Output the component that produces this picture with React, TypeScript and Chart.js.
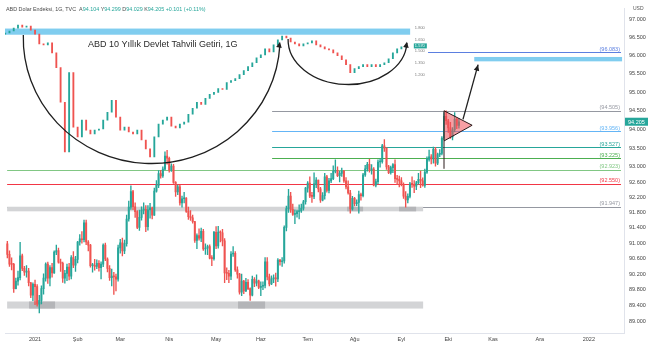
import React, { useEffect, useRef } from "react";
import { Chart, registerables } from "chart.js";
Chart.register(...registerables);

const FONT = "'Liberation Sans', Arial, sans-serif";
const UP = "#26a69a";
const DOWN = "#ef5350";

// ---- DXY daily candles (index 0 = 4 Jan 2021; negative = late Dec 2020) ----
const candleStart = -13;
const firstOpen = 90.98;
const closes = [
  90.71, 90.46, 90.45, 89.83, 90.02, 90.11, 90.67, 90.35, 90.25, 90.28, 89.98, 89.66, 89.94,
  89.88, 89.43, 89.53, 89.83, 90.10, 90.46, 90.10, 90.37, 90.23, 90.77, 90.81, 90.51, 90.48, 90.10, 90.22, 90.38, 90.15, 90.63, 90.43, 90.58,
  91.03, 91.11, 91.09, 91.53, 91.03, 90.95, 90.42, 90.43, 90.40, 90.48, 90.37, 90.46, 90.95, 90.59, 90.35, 90.11, 90.15, 90.13, 90.07, 90.88,
  91.01, 90.80, 90.99, 91.63, 91.94, 92.35, 91.95, 91.82, 91.41, 91.67, 91.86, 91.88, 91.43, 91.87, 91.92, 91.73, 92.36, 92.51, 92.82, 92.76, 92.94, 93.29, 93.23,
  92.92, 93.02, 92.59, 92.34, 92.47, 92.05, 92.16, 92.18, 91.83, 91.69, 91.66, 91.56, 91.07, 91.20, 91.13, 91.31, 90.85, 90.87, 90.91, 90.61, 90.60, 91.28,
  90.93, 91.29, 91.27, 91.06, 90.23, 90.22, 90.15, 90.72, 90.74, 90.31, 90.20, 89.74, 90.02, 89.77, 89.99, 89.83, 89.66, 90.07, 89.97, 90.03, 89.86,
  89.89, 89.91, 90.52, 90.13, 89.95, 90.08, 90.10, 90.08, 90.56, 90.52, 90.54, 91.41, 91.90, 92.23, 91.88, 91.75, 91.77, 91.82, 91.84, 91.91, 92.08, 92.44,
  92.57, 92.23, 92.22, 92.55, 92.65, 92.42, 92.12, 92.24, 92.74, 92.38, 92.63, 92.69, 92.88, 92.91, 92.77, 92.83, 92.89, 92.63, 92.47, 92.31, 91.89, 92.17,
  92.03, 92.06, 92.27, 92.24, 92.79, 92.95, 93.07, 92.92, 92.94, 92.52, 92.61, 93.13, 93.14, 93.56, 93.50, 93.00, 92.85, 92.98, 93.06, 92.69, 92.67, 92.63,
  92.54, 92.23, 92.13, 92.22, 92.55, 92.54, 92.49, 92.58, 92.67, 92.63, 92.51, 92.86, 93.20, 93.27, 93.21, 93.47, 93.10, 93.33, 93.36, 93.77, 94.35, 94.23,
  94.04, 93.80, 93.99, 94.27, 94.104, 94.205,
];
const highs = [
  91.05, 90.80, 90.62, 90.48, 90.10, 90.28, 91.02, 90.72, 90.40, 90.42, 90.35, 89.99, 89.98,
  90.05, 89.93, 89.66, 89.90, 90.21, 90.49, 90.51, 90.42, 90.48, 90.80, 90.95, 90.87, 90.59, 90.51, 90.30, 90.46, 90.48, 90.68, 90.78, 90.66,
  91.05, 91.22, 91.30, 91.60, 91.60, 91.07, 90.97, 90.48, 90.58, 90.57, 90.55, 90.52, 90.98, 91.00, 90.62, 90.42, 90.33, 90.25, 90.20, 90.95,
  91.10, 91.13, 91.08, 91.73, 92.10, 92.50, 92.38, 92.05, 91.85, 91.86, 91.95, 92.05, 91.98, 91.98, 92.04, 91.94, 92.44, 92.64, 92.90, 92.91, 93.00, 93.40, 93.44,
  93.26, 93.08, 93.07, 92.61, 92.52, 92.51, 92.23, 92.33, 92.19, 91.94, 91.85, 91.73, 91.57, 91.24, 91.37, 91.39, 91.36, 90.98, 90.95, 90.96, 90.68, 91.31,
  91.43, 91.44, 91.32, 91.36, 91.12, 90.36, 90.30, 90.78, 90.91, 90.78, 90.39, 90.22, 90.20, 90.04, 90.09, 90.06, 89.85, 90.15, 90.11, 90.18, 90.05,
  90.00, 90.00, 90.63, 90.63, 90.20, 90.16, 90.18, 90.23, 90.60, 90.58, 90.63, 91.45, 91.97, 92.41, 92.33, 92.02, 91.87, 91.86, 92.00, 92.02, 92.12, 92.46,
  92.61, 92.74, 92.33, 92.84, 92.72, 92.65, 92.46, 92.32, 92.83, 92.78, 92.70, 92.83, 93.03, 93.19, 93.00, 92.88, 92.97, 92.91, 92.72, 92.63, 92.38, 92.22,
  92.20, 92.13, 92.36, 92.31, 92.83, 93.04, 93.12, 93.20, 93.06, 92.98, 92.68, 93.19, 93.22, 93.60, 93.73, 93.51, 93.04, 93.02, 93.09, 93.19, 92.78, 92.76,
  92.72, 92.58, 92.35, 92.29, 92.59, 92.74, 92.64, 92.62, 92.83, 92.89, 92.71, 92.94, 93.27, 93.45, 93.33, 93.53, 93.52, 93.37, 93.46, 93.81, 94.45, 94.50,
  94.27, 94.19, 94.05, 94.45, 94.30, 94.299,
];
const lows = [
  90.62, 90.40, 90.31, 89.73, 89.82, 89.92, 90.05, 90.29, 90.17, 90.12, 89.90, 89.60, 89.52,
  89.42, 89.38, 89.21, 89.44, 89.69, 90.02, 89.96, 89.90, 90.12, 90.22, 90.70, 90.48, 90.27, 89.99, 89.97, 90.03, 90.05, 90.08, 90.37, 90.27,
  90.49, 90.95, 91.00, 91.03, 90.96, 90.80, 90.38, 90.25, 90.30, 90.34, 90.28, 90.08, 90.39, 90.55, 90.26, 90.04, 89.90, 89.68, 89.77, 90.02,
  90.74, 90.67, 90.73, 90.92, 91.57, 91.88, 91.87, 91.67, 91.38, 91.33, 91.60, 91.76, 91.30, 91.34, 91.65, 91.63, 91.72, 92.33, 92.45, 92.70, 92.72, 92.92, 93.07,
  92.86, 92.88, 92.56, 92.22, 92.27, 91.99, 91.94, 92.05, 91.80, 91.62, 91.59, 91.52, 91.02, 90.86, 91.08, 91.04, 90.81, 90.71, 90.70, 90.59, 90.42, 90.56,
  90.86, 90.87, 91.03, 90.93, 89.98, 90.06, 89.98, 90.06, 90.66, 90.27, 90.10, 89.69, 89.65, 89.70, 89.75, 89.80, 89.53, 89.64, 89.88, 89.90, 89.83,
  89.65, 89.80, 89.85, 90.05, 89.90, 89.93, 89.98, 89.89, 90.01, 90.43, 90.40, 90.48, 91.32, 91.80, 91.80, 91.72, 91.51, 91.68, 91.63, 91.80, 91.86, 92.02,
  92.33, 92.19, 92.06, 92.16, 92.45, 92.34, 92.06, 92.10, 92.15, 92.33, 92.31, 92.58, 92.66, 92.84, 92.74, 92.60, 92.75, 92.59, 92.42, 92.28, 91.78, 91.86,
  91.97, 91.98, 91.78, 92.12, 92.21, 92.75, 92.89, 92.86, 92.81, 92.50, 92.47, 92.55, 92.99, 93.10, 93.41, 92.93, 92.82, 92.81, 92.85, 92.59, 92.53, 92.47,
  92.50, 92.17, 91.94, 92.05, 92.18, 92.46, 92.32, 92.40, 92.54, 92.45, 92.49, 92.46, 92.83, 93.15, 93.08, 93.10, 93.02, 93.06, 93.27, 93.32, 93.72, 94.13,
  93.92, 93.76, 93.72, 93.93, 94.02, 94.029,
];

// ---- overlay: US 10Y yield (pasted chart, own scale) ----
const overlayStart = -14;
const overlayStep = 2;
const overlayFirstOpen = 1.72;
const overlayValues = [
  1.736, 1.762, 1.800, 1.838, 1.813, 1.826, 1.774, 1.723, 1.596, 1.583, 1.609, 1.481, 1.289, 0.843, 0.204, 1.226,
  0.523, 0.396, 0.613, 0.485, 0.434, 0.485, 0.498, 0.613, 0.715, 0.868, 0.651, 0.485, 0.523, 0.460, 0.434, 0.485,
  0.357, 0.243, 0.140, 0.396, 0.562, 0.613, 0.651, 0.536, 0.511, 0.562, 0.587, 0.689, 0.766, 0.843, 0.817, 0.894,
  0.945, 0.970, 1.021, 1.008, 1.098, 1.123, 1.149, 1.200, 1.251, 1.302, 1.353, 1.417, 1.455, 1.532, 1.494, 1.583,
  1.647, 1.698, 1.672, 1.621, 1.596, 1.570, 1.596, 1.609, 1.634, 1.583, 1.557, 1.532, 1.519, 1.481, 1.443, 1.391,
  1.328, 1.226, 1.277, 1.302, 1.328, 1.302, 1.328, 1.302, 1.328, 1.353, 1.404, 1.481, 1.532, 1.557, 1.570,
];
const overlayTickValues = [1.8, 1.65, 1.5, 1.35, 1.2];

// ---- axes ----
const yTicks = [97, 96.5, 96, 95.5, 95, 94.5, 94, 93.5, 93, 92.6, 92.2, 91.8, 91.4, 91, 90.6, 90.2, 89.8, 89.4, 89];
const monthIdx = [0, 20, 40, 63, 85, 106, 128, 150, 172, 194, 215, 237, 260];
const monthLabels = ["2021", "Şub", "Mar", "Nis", "May", "Haz", "Tem", "Ağu", "Eyl", "Eki", "Kas", "Ara", "2022"];

// ---- horizontal levels ----
const levelValues = [96.083, 94.505, 93.956, 93.527, 93.225, 92.923, 92.55, 91.947];
const levelColors = ["#5b7fe0", "#9598a1", "#64b5f6", "#26a69a", "#4caf50", "#81c784", "#f23645", "#9598a1"];
const levelFrom = [184.5, 111.3, 111.3, 111.3, 111.3, -13.1, -13.1, -13.1];

// ---- zones ----
const zoneTop = [96.74, 95.96, 91.95, 89.5];
const zoneBottom = [96.57, 95.84, 91.83, 89.32];
const zoneFrom = [-14.1, 206.2, -13.1, -13.1];
const zoneTo = [176.1, 275.6, 182.2, 182.2];
const zoneColors = ["#80cdef", "#80cdef", "#d3d4d6", "#d3d4d6"];
const patchZone = [2, 2, 3, 3];
const patchFrom = [146.5, 170.9, -2.8, 95.3];
const patchTo = [154.0, 178.9, 9.4, 108.0];

// ---- drawings (index, price) ----
const bigArc = { from: [-5.5, 96.56], to: [115.0, 96.38], bottom: 93.09 };
const smallArc = { from: [118.8, 96.45], to: [174.6, 96.38], bottom: 95.21 };
const flagArrow = { from: [200.9, 94.27], to: [208.0, 95.75] };
const flagTriangle = [[192, 94.5], [205.2, 94.11], [192, 93.69]];
const flagPole = [[192, 93.69], [192, 92.95]];

const opens = closes.map((_, k) => (k === 0 ? firstOpen : closes[k - 1]));
const candleX = closes.map((_, k) => candleStart + k);
const overlayOpens = overlayValues.map((_, k) => (k === 0 ? overlayFirstOpen : overlayValues[k - 1]));

function arrowHead(ctx: CanvasRenderingContext2D, x: number, y: number, ang: number, len = 6, w = 2.8) {
  const c = Math.cos(ang), s = Math.sin(ang);
  ctx.beginPath();
  ctx.moveTo(x, y);
  ctx.lineTo(x - len * c + w * s, y - len * s - w * c);
  ctx.lineTo(x - len * c - w * s, y - len * s + w * c);
  ctx.closePath();
  ctx.fill();
}

const annotPlugin = {
  id: "annot",
  beforeDatasetsDraw(chart: any) {
    const { ctx, chartArea, scales } = chart;
    const x = scales.x, y = scales.y;
    ctx.save();
    ctx.beginPath();
    ctx.rect(chartArea.left, chartArea.top, chartArea.width, chartArea.height);
    ctx.clip();
    levelValues.forEach((v, k) => {
      const py = Math.round(y.getPixelForValue(v)) + 0.5;
      ctx.strokeStyle = levelColors[k];
      ctx.lineWidth = 1;
      ctx.beginPath();
      ctx.moveTo(x.getPixelForValue(levelFrom[k]), py);
      ctx.lineTo(chartArea.right - 3, py);
      ctx.stroke();
    });
    zoneTop.forEach((t, k) => {
      const x0 = x.getPixelForValue(zoneFrom[k]);
      const x1 = x.getPixelForValue(zoneTo[k]);
      const y0 = y.getPixelForValue(t);
      const y1 = y.getPixelForValue(zoneBottom[k]);
      ctx.fillStyle = zoneColors[k];
      ctx.fillRect(x0, y0, x1 - x0, y1 - y0);
    });
    patchFrom.forEach((f, k) => {
      const z = patchZone[k];
      const x0 = x.getPixelForValue(f);
      const x1 = x.getPixelForValue(patchTo[k]);
      const y0 = y.getPixelForValue(zoneTop[z]);
      const y1 = y.getPixelForValue(zoneBottom[z]);
      ctx.fillStyle = "#b4b5b8";
      ctx.fillRect(x0, y0, x1 - x0, y1 - y0);
    });
    ctx.restore();
  },
  afterDatasetsDraw(chart: any) {
    const { ctx, chartArea, scales } = chart;
    const x = scales.x, y = scales.y, yY = scales.yY;
    const P = (p: number[]) => [x.getPixelForValue(p[0]), y.getPixelForValue(p[1])];
    ctx.save();
    ctx.font = `5.5px ${FONT}`;
    ctx.textAlign = "right";
    ctx.textBaseline = "alphabetic";
    levelValues.forEach((v, k) => {
      const py = y.getPixelForValue(v);
      ctx.fillStyle = levelColors[k];
      ctx.fillText(`(${v.toFixed(3)})`, chartArea.right - 4, py - 1.5);
    });

    ctx.strokeStyle = "#1f1f1f";
    ctx.fillStyle = "#1f1f1f";
    ctx.lineWidth = 1.3;
    [bigArc, smallArc].forEach((a) => {
      const [xl, yl] = P(a.from);
      const [xr, yr] = P(a.to);
      const cx = (xl + xr) / 2, cy = (yl + yr) / 2;
      const rot = Math.atan2(yr - yl, xr - xl);
      const rx = Math.hypot(xr - xl, yr - yl) / 2;
      const ry = y.getPixelForValue(a.bottom) - cy;
      ctx.beginPath();
      ctx.ellipse(cx, cy, rx, ry, rot, 0.03, Math.PI);
      ctx.stroke();
      arrowHead(ctx, xr, yr, Math.atan2(-Math.cos(rot), Math.sin(rot)) + 0.15);
    });
    const [ax0, ay0] = P(flagArrow.from);
    const [ax1, ay1] = P(flagArrow.to);
    ctx.beginPath();
    ctx.moveTo(ax0, ay0);
    ctx.lineTo(ax1, ay1);
    ctx.stroke();
    arrowHead(ctx, ax1, ay1, Math.atan2(ay1 - ay0, ax1 - ax0));
    ctx.beginPath();
    flagTriangle.forEach((p, k) => {
      const [px, py] = P(p);
      if (k === 0) ctx.moveTo(px, py);
      else ctx.lineTo(px, py);
    });
    ctx.closePath();
    ctx.fillStyle = "rgba(240,80,90,0.55)";
    ctx.fill();
    ctx.lineWidth = 1;
    ctx.strokeStyle = "#2a1a1a";
    ctx.stroke();
    const [p0x, p0y] = P(flagPole[0]);
    const [p1x, p1y] = P(flagPole[1]);
    ctx.beginPath();
    ctx.moveTo(p0x, p0y);
    ctx.lineTo(p1x, p1y);
    ctx.stroke();

    const lx = x.getPixelForValue(178.3);
    ctx.font = `4px ${FONT}`;
    ctx.textAlign = "left";
    ctx.textBaseline = "middle";
    ctx.fillStyle = "#7a7a7a";
    overlayTickValues.forEach((v) => ctx.fillText(v.toFixed(3), lx, yY.getPixelForValue(v)));
    const lastV = overlayValues[overlayValues.length - 1];
    const by = yY.getPixelForValue(lastV);
    ctx.fillStyle = UP;
    ctx.fillRect(lx - 1, by - 2.5, 13, 5);
    ctx.fillStyle = "#fff";
    ctx.fillText(lastV.toFixed(3), lx, by + 0.2);

    ctx.font = `9px ${FONT}`;
    ctx.fillStyle = "#2b2b2b";
    ctx.textBaseline = "alphabetic";
    ctx.fillText("ABD 10 Yıllık Devlet Tahvili Getiri, 1G", 88, 47);
    ctx.restore();
  },
  afterDraw(chart: any) {
    const { ctx, chartArea, scales } = chart;
    const y = scales.y;
    ctx.save();
    const last = closes[closes.length - 1];
    const py = y.getPixelForValue(last);
    ctx.fillStyle = UP;
    ctx.fillRect(chartArea.right + 1, py - 4, 23, 8);
    ctx.fillStyle = "#fff";
    ctx.font = `5.5px ${FONT}`;
    ctx.textBaseline = "middle";
    ctx.textAlign = "left";
    ctx.fillText(last.toFixed(3), chartArea.right + 4, py + 0.3);
    ctx.fillStyle = "#555";
    ctx.font = `5px ${FONT}`;
    ctx.fillText("USD", chartArea.right + 9, 9);
    const k = closes.length - 1;
    const chg = last - closes[k - 1];
    const parts: [string, string][] = [
      ["ABD Dolar Endeksi, 1G, TVC  ", "#4a4a4a"],
      ["A", "#4a4a4a"], [opens[k].toFixed(3) + " ", UP],
      ["Y", "#4a4a4a"], [highs[k].toFixed(3) + " ", UP],
      ["D", "#4a4a4a"], [lows[k].toFixed(3) + " ", UP],
      ["K", "#4a4a4a"], [last.toFixed(3) + " ", UP],
      [`+${chg.toFixed(3)} (+${((chg / closes[k - 1]) * 100).toFixed(2)}%)`, UP],
    ];
    ctx.font = `5.4px ${FONT}`;
    let hx = 6;
    parts.forEach(([t, c]) => {
      ctx.fillStyle = c;
      ctx.fillText(t, hx, 10);
      hx += ctx.measureText(t).width;
    });
    ctx.restore();
  },
};

export default function App() {
  const ref = useRef<HTMLCanvasElement | null>(null);
  useEffect(() => {
    if (!ref.current) return;
    const bodyData = closes.map((c, k) => ({ x: candleX[k], y: [opens[k], c] }));
    const wickData = closes.map((c, k) => ({
      x: candleX[k],
      y: [Math.min(lows[k], opens[k], c), Math.max(highs[k], opens[k], c)],
    }));
    const candleColors = closes.map((c, k) => (c >= opens[k] ? UP : DOWN));
    const ovData = overlayValues.map((v, k) => ({ x: overlayStart + k * overlayStep, y: [overlayOpens[k], v] }));
    const ovColors = overlayValues.map((v, k) => (v >= overlayOpens[k] ? UP : DOWN));

    const chart = new Chart(ref.current, {
      type: "bar",
      data: {
        datasets: [
          { data: bodyData as any, backgroundColor: candleColors, barThickness: 1.3, minBarLength: 1, grouped: false, borderWidth: 0, xAxisID: "x", yAxisID: "y", order: 0 } as any,
          { data: wickData as any, backgroundColor: candleColors, barThickness: 0.7, grouped: false, borderWidth: 0, xAxisID: "x", yAxisID: "y", order: 1 } as any,
          { data: ovData as any, backgroundColor: ovColors, barThickness: 1.2, minBarLength: 1, grouped: false, borderWidth: 0, xAxisID: "x", yAxisID: "yY", order: 2 } as any,
        ],
      },
      options: {
        responsive: false,
        animation: false,
        devicePixelRatio: 1,
        layout: { padding: { left: 5, top: 5, right: 0, bottom: 0 } },
        plugins: { legend: { display: false }, tooltip: { enabled: false } },
        scales: {
          x: {
            type: "linear",
            min: -14.1,
            max: 276.5,
            offset: false,
            grid: { display: false, drawTicks: false },
            border: { display: true, color: "#e0e3eb" },
            afterBuildTicks: (s: any) => { s.ticks = monthIdx.map((v) => ({ value: v })); },
            afterFit: (s: any) => { s.height = 18; },
            ticks: {
              autoSkip: false,
              maxRotation: 0,
              padding: 3,
              color: "#444",
              font: { size: 5.5, family: FONT },
              callback: (v: any) => monthLabels[monthIdx.indexOf(Number(v))] ?? "",
            },
          },
          y: {
            type: "logarithmic",
            position: "right",
            min: 88.7,
            max: 97.3,
            grid: { display: false, drawTicks: false },
            border: { display: true, color: "#e0e3eb" },
            afterBuildTicks: (s: any) => { s.ticks = yTicks.map((v) => ({ value: v })); },
            afterFit: (s: any) => { s.width = 30; },
            ticks: {
              padding: 5,
              color: "#444",
              font: { size: 5.5, family: FONT },
              callback: (v: any) => Number(v).toFixed(3),
            },
          },
          yY: { type: "linear", display: false, min: -2.132, max: 2.055 },
        },
      } as any,
      plugins: [annotPlugin],
    });
    return () => chart.destroy();
  }, []);
  return (
    <div style={{ position: "absolute", left: 0, top: 0, width: 654, height: 351, background: "#fff" }}>
      <canvas ref={ref} width={654} height={351} style={{ display: "block" }} />
    </div>
  );
}
